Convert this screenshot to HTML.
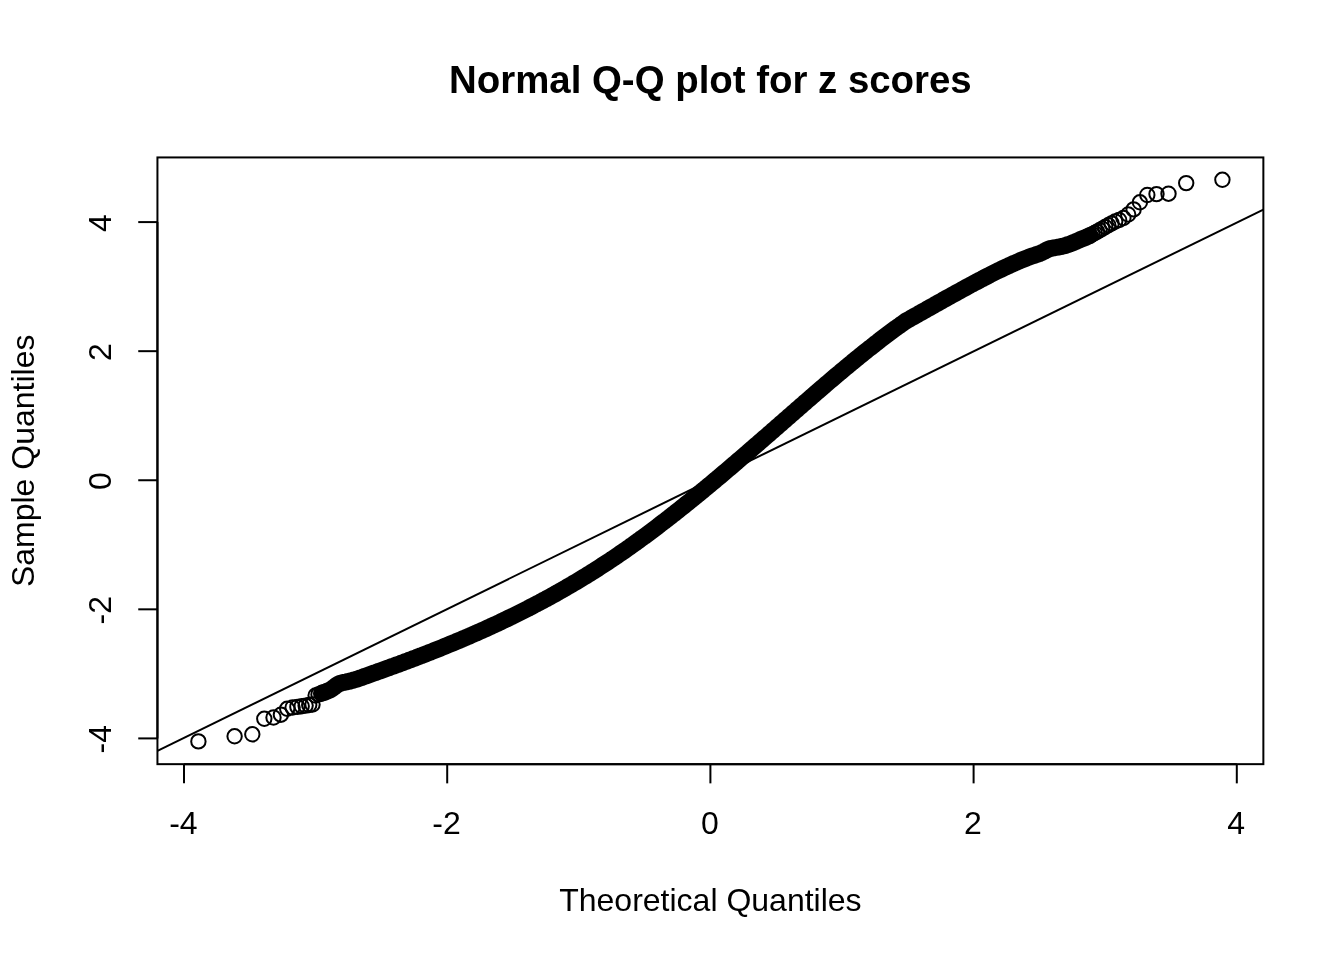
<!DOCTYPE html>
<html><head><meta charset="utf-8"><style>
html,body{margin:0;padding:0;background:#fff;width:1344px;height:960px;overflow:hidden}
svg{display:block;will-change:transform}
</style></head><body>
<svg width="1344" height="960" viewBox="0 0 1344 960">
<rect width="1344" height="960" fill="#fff"/>
<g fill="none" stroke="#000" stroke-width="2">
<rect x="157.44" y="157.44" width="1105.92" height="606.72"/>
<line x1="184.00" y1="764.16" x2="1236.80" y2="764.16"/>
<line x1="184.00" y1="764.16" x2="184.00" y2="783.36"/>
<line x1="447.20" y1="764.16" x2="447.20" y2="783.36"/>
<line x1="710.40" y1="764.16" x2="710.40" y2="783.36"/>
<line x1="973.60" y1="764.16" x2="973.60" y2="783.36"/>
<line x1="1236.80" y1="764.16" x2="1236.80" y2="783.36"/>
<line x1="157.44" y1="738.41" x2="157.44" y2="222.09"/>
<line x1="138.24" y1="738.41" x2="157.44" y2="738.41"/>
<line x1="138.24" y1="609.33" x2="157.44" y2="609.33"/>
<line x1="138.24" y1="480.25" x2="157.44" y2="480.25"/>
<line x1="138.24" y1="351.17" x2="157.44" y2="351.17"/>
<line x1="138.24" y1="222.09" x2="157.44" y2="222.09"/>
</g>
<clipPath id="c"><rect x="157.44" y="157.44" width="1105.92" height="606.72"/></clipPath>
<line clip-path="url(#c)" x1="157.44" y1="750.8" x2="1263.36" y2="209.6" stroke="#000" stroke-width="2"/>
<g fill="none" stroke="#000" stroke-width="2"><circle cx="198.4" cy="741.4" r="7.2"/><circle cx="234.6" cy="736.3" r="7.2"/><circle cx="252.3" cy="734.3" r="7.2"/><circle cx="264.3" cy="718.8" r="7.2"/><circle cx="273.5" cy="717.5" r="7.2"/><circle cx="280.9" cy="714.7" r="7.2"/><circle cx="287.2" cy="708.8" r="7.2"/><circle cx="292.6" cy="707.5" r="7.2"/><circle cx="297.4" cy="706.9" r="7.2"/><circle cx="301.7" cy="706.2" r="7.2"/><circle cx="305.6" cy="705.6" r="7.2"/><circle cx="309.2" cy="705.0" r="7.2"/><circle cx="312.5" cy="704.5" r="7.2"/><circle cx="315.6" cy="695.5" r="7.2"/><circle cx="318.5" cy="694.4" r="7.2"/><circle cx="321.2" cy="693.5" r="7.2"/><circle cx="323.7" cy="692.5" r="7.2"/><circle cx="1088.1" cy="236.4" r="7.2"/><circle cx="1090.2" cy="235.5" r="7.2"/><circle cx="1092.4" cy="234.3" r="7.2"/><circle cx="1094.7" cy="233.0" r="7.2"/><circle cx="1097.1" cy="231.6" r="7.2"/><circle cx="1099.6" cy="230.2" r="7.2"/><circle cx="1102.3" cy="228.7" r="7.2"/><circle cx="1105.2" cy="227.0" r="7.2"/><circle cx="1108.3" cy="225.2" r="7.2"/><circle cx="1111.6" cy="223.4" r="7.2"/><circle cx="1115.2" cy="221.5" r="7.2"/><circle cx="1119.1" cy="220.0" r="7.2"/><circle cx="1123.4" cy="218.0" r="7.2"/><circle cx="1128.2" cy="214.5" r="7.2"/><circle cx="1133.6" cy="209.4" r="7.2"/><circle cx="1139.9" cy="202.3" r="7.2"/><circle cx="1147.3" cy="195.0" r="7.2"/><circle cx="1156.5" cy="194.1" r="7.2"/><circle cx="1168.5" cy="193.7" r="7.2"/><circle cx="1186.2" cy="183.1" r="7.2"/><circle cx="1222.4" cy="179.8" r="7.2"/></g>
<polyline fill="none" stroke="#000" stroke-width="16.9" stroke-linejoin="round" stroke-linecap="round" points="322.0,693.1 324.0,692.4 326.0,691.7 328.0,690.9 330.0,690.0 332.0,688.8 334.0,687.3 336.0,685.7 338.0,684.4 340.0,683.4 342.0,682.8 344.0,682.4 346.0,682.0 348.0,681.5 350.0,681.1 352.0,680.5 354.0,680.0 356.0,679.4 358.0,678.8 360.0,678.1 362.0,677.4 364.0,676.6 366.0,675.9 368.0,675.2 370.0,674.5 372.0,673.8 374.0,673.1 376.0,672.4 378.0,671.6 380.0,670.9 382.0,670.2 384.0,669.5 386.0,668.8 388.0,668.1 390.0,667.3 392.0,666.6 394.0,665.9 396.0,665.1 398.0,664.4 400.0,663.7 402.0,662.9 404.0,662.2 406.0,661.4 408.0,660.7 410.0,659.9 412.0,659.2 414.0,658.4 416.0,657.7 418.0,656.9 420.0,656.1 422.0,655.4 424.0,654.6 426.0,653.8 428.0,653.0 430.0,652.3 432.0,651.5 434.0,650.7 436.0,649.9 438.0,649.1 440.0,648.3 442.0,647.5 444.0,646.7 446.0,645.9 448.0,645.0 450.0,644.2 452.0,643.4 454.0,642.6 456.0,641.7 458.0,640.9 460.0,640.1 462.0,639.2 464.0,638.4 466.0,637.5 468.0,636.6 470.0,635.8 472.0,634.9 474.0,634.0 476.0,633.2 478.0,632.3 480.0,631.4 482.0,630.5 484.0,629.6 486.0,628.7 488.0,627.8 490.0,626.9 492.0,625.9 494.0,625.0 496.0,624.1 498.0,623.2 500.0,622.2 502.0,621.3 504.0,620.3 506.0,619.4 508.0,618.4 510.0,617.4 512.0,616.5 514.0,615.5 516.0,614.5 518.0,613.5 520.0,612.5 522.0,611.5 524.0,610.5 526.0,609.5 528.0,608.5 530.0,607.4 532.0,606.4 534.0,605.3 536.0,604.3 538.0,603.2 540.0,602.2 542.0,601.1 544.0,600.0 546.0,599.0 548.0,597.9 550.0,596.8 552.0,595.7 554.0,594.6 556.0,593.5 558.0,592.3 560.0,591.2 562.0,590.1 564.0,588.9 566.0,587.8 568.0,586.6 570.0,585.4 572.0,584.3 574.0,583.1 576.0,581.9 578.0,580.7 580.0,579.5 582.0,578.3 584.0,577.1 586.0,575.9 588.0,574.6 590.0,573.4 592.0,572.1 594.0,570.9 596.0,569.6 598.0,568.3 600.0,567.0 602.0,565.7 604.0,564.4 606.0,563.1 608.0,561.8 610.0,560.5 612.0,559.2 614.0,557.8 616.0,556.5 618.0,555.1 620.0,553.7 622.0,552.4 624.0,551.0 626.0,549.6 628.0,548.2 630.0,546.8 632.0,545.3 634.0,543.9 636.0,542.5 638.0,541.0 640.0,539.6 642.0,538.1 644.0,536.7 646.0,535.2 648.0,533.7 650.0,532.2 652.0,530.7 654.0,529.2 656.0,527.7 658.0,526.2 660.0,524.6 662.0,523.1 664.0,521.6 666.0,520.0 668.0,518.5 670.0,516.9 672.0,515.3 674.0,513.8 676.0,512.2 678.0,510.6 680.0,509.0 682.0,507.4 684.0,505.8 686.0,504.2 688.0,502.6 690.0,501.0 692.0,499.4 694.0,497.7 696.0,496.1 698.0,494.5 700.0,492.8 702.0,491.2 704.0,489.5 706.0,487.9 708.0,486.2 710.0,484.6 712.0,482.9 714.0,481.2 716.0,479.5 718.0,477.9 720.0,476.2 722.0,474.5 724.0,472.8 726.0,471.1 728.0,469.4 730.0,467.7 732.0,466.0 734.0,464.3 736.0,462.6 738.0,460.8 740.0,459.1 742.0,457.4 744.0,455.7 746.0,454.0 748.0,452.2 750.0,450.5 752.0,448.8 754.0,447.0 756.0,445.3 758.0,443.6 760.0,441.8 762.0,440.1 764.0,438.3 766.0,436.6 768.0,434.9 770.0,433.1 772.0,431.4 774.0,429.6 776.0,427.9 778.0,426.1 780.0,424.4 782.0,422.6 784.0,420.9 786.0,419.1 788.0,417.4 790.0,415.6 792.0,413.9 794.0,412.1 796.0,410.4 798.0,408.6 800.0,406.9 802.0,405.1 804.0,403.4 806.0,401.6 808.0,399.9 810.0,398.2 812.0,396.4 814.0,394.7 816.0,392.9 818.0,391.2 820.0,389.5 822.0,387.8 824.0,386.1 826.0,384.3 828.0,382.6 830.0,380.9 832.0,379.2 834.0,377.5 836.0,375.8 838.0,374.1 840.0,372.5 842.0,370.8 844.0,369.1 846.0,367.4 848.0,365.8 850.0,364.1 852.0,362.5 854.0,360.8 856.0,359.2 858.0,357.6 860.0,355.9 862.0,354.3 864.0,352.7 866.0,351.1 868.0,349.5 870.0,347.9 872.0,346.4 874.0,344.8 876.0,343.2 878.0,341.7 880.0,340.1 882.0,338.6 884.0,337.1 886.0,335.6 888.0,334.1 890.0,332.6 892.0,331.1 894.0,329.6 896.0,328.1 898.0,326.7 900.0,325.3 902.0,323.8 904.0,322.4 906.0,321.0 908.0,319.9 910.0,318.8 912.0,317.6 914.0,316.5 916.0,315.4 918.0,314.3 920.0,313.1 922.0,312.0 924.0,310.9 926.0,309.8 928.0,308.6 930.0,307.5 932.0,306.4 934.0,305.3 936.0,304.1 938.0,303.0 940.0,301.9 942.0,300.8 944.0,299.6 946.0,298.5 948.0,297.4 950.0,296.3 952.0,295.2 954.0,294.1 956.0,293.0 958.0,291.9 960.0,290.8 962.0,289.7 964.0,288.6 966.0,287.5 968.0,286.4 970.0,285.3 972.0,284.3 974.0,283.2 976.0,282.1 978.0,281.1 980.0,280.0 982.0,279.0 984.0,277.9 986.0,276.9 988.0,275.9 990.0,274.8 992.0,273.8 994.0,272.8 996.0,271.8 998.0,270.8 1000.0,269.9 1002.0,268.9 1004.0,267.9 1006.0,267.0 1008.0,266.1 1010.0,265.1 1012.0,264.2 1014.0,263.3 1016.0,262.5 1018.0,261.6 1020.0,260.7 1022.0,259.9 1024.0,259.1 1026.0,258.3 1028.0,257.5 1030.0,256.8 1032.0,256.1 1034.0,255.4 1036.0,254.7 1038.0,254.1 1040.0,253.4 1042.0,252.5 1044.0,251.5 1046.0,250.4 1048.0,249.4 1050.0,248.6 1052.0,248.2 1054.0,247.8 1056.0,247.5 1058.0,247.2 1060.0,246.8 1062.0,246.4 1064.0,245.9 1066.0,245.3 1068.0,244.6 1070.0,244.0 1072.0,243.2 1074.0,242.4 1076.0,241.5 1078.0,240.6 1080.0,239.7 1082.0,238.9 1084.0,238.1 1086.0,237.3 1088.0,236.4 1090.0,235.5"/>
<g font-family="Liberation Sans, sans-serif" font-size="32" fill="#000" text-anchor="middle">
<text x="183.40" y="834">-4</text>
<text x="446.60" y="834">-2</text>
<text x="709.80" y="834">0</text>
<text x="973.00" y="834">2</text>
<text x="1236.20" y="834">4</text>
<text transform="translate(110.9,739.31) rotate(-90)">-4</text>
<text transform="translate(110.9,610.23) rotate(-90)">-2</text>
<text transform="translate(110.9,481.15) rotate(-90)">0</text>
<text transform="translate(110.9,352.07) rotate(-90)">2</text>
<text transform="translate(110.9,222.99) rotate(-90)">4</text>
<text x="710.4" y="911">Theoretical Quantiles</text>
<text transform="translate(34,460.80) rotate(-90)">Sample Quantiles</text>
<text x="710.4" y="93.3" font-weight="bold" font-size="38.4">Normal Q-Q plot for z scores</text>
</g>
</svg>
</body></html>
